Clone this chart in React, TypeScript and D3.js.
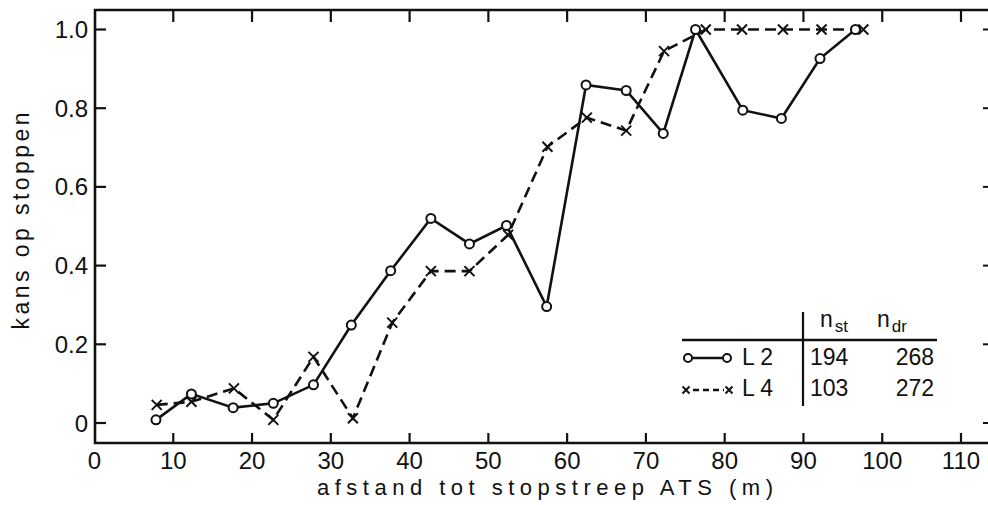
import React, { useEffect, useRef } from "react";
import * as d3 from "d3";

const l2X = [7.8, 12.3, 17.6, 22.7, 27.8, 32.6, 37.6, 42.7, 47.6, 52.3, 57.4, 62.4, 67.5, 72.2, 76.3, 82.3, 87.2, 92.1, 96.6];
const l2P = [0.008, 0.074, 0.039, 0.05, 0.097, 0.249, 0.387, 0.52, 0.455, 0.502, 0.296, 0.859, 0.845, 0.736, 1.0, 0.795, 0.774, 0.926, 1.0];
const l4X = [7.9, 12.3, 17.7, 22.7, 27.8, 32.8, 37.8, 42.7, 47.6, 52.5, 57.5, 62.5, 67.5, 72.3, 77.6, 82.2, 87.4, 92.3, 97.6];
const l4P = [0.046, 0.054, 0.088, 0.008, 0.168, 0.012, 0.255, 0.386, 0.386, 0.478, 0.702, 0.776, 0.743, 0.945, 1.0, 1.0, 1.0, 1.0, 1.0];

const xTicks = [0, 10, 20, 30, 40, 50, 60, 70, 80, 90, 100, 110];
const yTicks = [0, 0.2, 0.4, 0.6, 0.8, 1.0];
const yTickLabels = ["0", "0.2", "0.4", "0.6", "0.8", "1.0"];
const seriesNames = ["L2", "L4"];
const nSt = [194, 103];
const nDr = [268, 272];
const xTitle = "afstand tot stopstreep ATS (m)";
const yTitle = "kans op stoppen";

const W = 988;
const H = 505;
const FONT = "'Liberation Sans', Arial, sans-serif";

export default function App() {
  const ref = useRef<SVGSVGElement>(null);

  useEffect(() => {
    document.body.style.margin = "0";
    const svg = d3.select(ref.current);
    svg.selectAll("*").remove();

    const x = d3.scaleLinear().domain([0, 110]).range([94.5, 961]);
    const y = d3.scaleLinear().domain([0, 1]).range([423, 29.5]);
    const left = 95, top = 10, bottom = 443, right = 989;
    const ink = "#111";

    // frame
    svg.append("path")
      .attr("d", `M${right},${top}H${left}V${bottom}H${right}`)
      .attr("fill", "none").attr("stroke", ink).attr("stroke-width", 2.6);

    // x ticks bottom and top
    xTicks.filter(t => t > 0).forEach(t => {
      svg.append("line").attr("x1", x(t)).attr("x2", x(t)).attr("y1", bottom).attr("y2", bottom - 10)
        .attr("stroke", ink).attr("stroke-width", 2.2);
      svg.append("line").attr("x1", x(t)).attr("x2", x(t)).attr("y1", top).attr("y2", top + 12)
        .attr("stroke", ink).attr("stroke-width", 2.2);
    });
    xTicks.forEach(t => {
      svg.append("text").attr("x", x(t)).attr("y", 469).attr("text-anchor", "middle")
        .attr("font-family", FONT).attr("font-size", 24).attr("fill", ink).text(String(t));
    });

    // y ticks left and right
    yTicks.forEach((t, i) => {
      svg.append("line").attr("x1", left).attr("x2", left + 11).attr("y1", y(t)).attr("y2", y(t))
        .attr("stroke", ink).attr("stroke-width", 2.2);
      svg.append("line").attr("x1", 983).attr("x2", right).attr("y1", y(t)).attr("y2", y(t))
        .attr("stroke", ink).attr("stroke-width", 2);
      svg.append("text").attr("x", 88).attr("y", y(t) + 8.5).attr("text-anchor", "end")
        .attr("font-family", FONT).attr("font-size", 24).attr("fill", ink).text(yTickLabels[i]);
    });

    // titles
    svg.append("text").attr("x", 545).attr("y", 495).attr("text-anchor", "middle")
      .attr("font-family", FONT).attr("font-size", 22).attr("fill", ink)
      .attr("textLength", 456).attr("lengthAdjust", "spacing").text(xTitle);
    svg.append("text").attr("transform", "translate(29,221) rotate(-90)").attr("text-anchor", "middle")
      .attr("font-family", FONT).attr("font-size", 23).attr("fill", ink)
      .attr("textLength", 217).attr("lengthAdjust", "spacing").text(yTitle);

    const l2 = l2X.map((v, i) => [v, l2P[i]] as [number, number]);
    const l4 = l4X.map((v, i) => [v, l4P[i]] as [number, number]);
    const line = d3.line<[number, number]>().x(d => x(d[0])).y(d => y(d[1]));

    svg.append("path").attr("d", line(l4)).attr("fill", "none").attr("stroke", ink)
      .attr("stroke-width", 2.6).attr("stroke-dasharray", "11,6");
    svg.append("path").attr("d", line(l2)).attr("fill", "none").attr("stroke", ink)
      .attr("stroke-width", 2.6);

    const cross = (g: any, cx: number, cy: number, s: number) => {
      g.append("path").attr("d", `M${cx - s},${cy - s}L${cx + s},${cy + s}M${cx - s},${cy + s}L${cx + s},${cy - s}`)
        .attr("stroke", ink).attr("stroke-width", 2).attr("fill", "none");
    };
    l4.forEach(d => cross(svg, x(d[0]), y(d[1]), 5));
    l2.forEach(d => {
      svg.append("circle").attr("cx", x(d[0])).attr("cy", y(d[1])).attr("r", 4.5)
        .attr("fill", "white").attr("stroke", ink).attr("stroke-width", 2);
    });

    // legend table
    const lg = svg.append("g");
    lg.append("rect").attr("x", 678).attr("y", 308).attr("width", 262).attr("height", 102).attr("fill", "white");
    lg.append("line").attr("x1", 682).attr("x2", 937).attr("y1", 340).attr("y2", 340).attr("stroke", ink).attr("stroke-width", 2.4);
    lg.append("line").attr("x1", 803).attr("x2", 803).attr("y1", 312).attr("y2", 406).attr("stroke", ink).attr("stroke-width", 2.2);
    const hdr = (xp: number, sub: string) => {
      const t = lg.append("text").attr("x", xp).attr("y", 327).attr("font-family", FONT).attr("font-size", 23).attr("fill", ink);
      t.append("tspan").text("n");
      t.append("tspan").attr("dy", 5).attr("dx", 2).attr("font-size", 17).text(sub);
    };
    hdr(820, "st");
    hdr(877, "dr");
    // row symbols
    lg.append("line").attr("x1", 688).attr("x2", 727).attr("y1", 358).attr("y2", 358).attr("stroke", ink).attr("stroke-width", 2.6);
    [688, 727].forEach(cx => lg.append("circle").attr("cx", cx).attr("cy", 358).attr("r", 4)
      .attr("fill", "white").attr("stroke", ink).attr("stroke-width", 2));
    lg.append("line").attr("x1", 691).attr("x2", 724).attr("y1", 390).attr("y2", 390).attr("stroke", ink)
      .attr("stroke-width", 2.6).attr("stroke-dasharray", "6,4").attr("stroke-dashoffset", -2);
    cross(lg, 686, 390, 3.5);
    cross(lg, 729, 390, 3.5);
    const rowsY = [365, 396];
    seriesNames.forEach((n, i) => {
      lg.append("text").attr("x", 742).attr("y", rowsY[i]).attr("font-family", FONT).attr("font-size", 23)
        .attr("fill", ink).attr("textLength", 31).attr("lengthAdjust", "spacing").text(n);
      lg.append("text").attr("x", 810).attr("y", rowsY[i]).attr("font-family", FONT).attr("font-size", 23)
        .attr("fill", ink).text(String(nSt[i]));
      lg.append("text").attr("x", 934).attr("y", rowsY[i]).attr("text-anchor", "end").attr("font-family", FONT)
        .attr("font-size", 23).attr("fill", ink).text(String(nDr[i]));
    });
  }, []);

  return (
    <svg ref={ref} width={W} height={H} style={{ position: "absolute", left: 0, top: 0, background: "white" }} />
  );
}
